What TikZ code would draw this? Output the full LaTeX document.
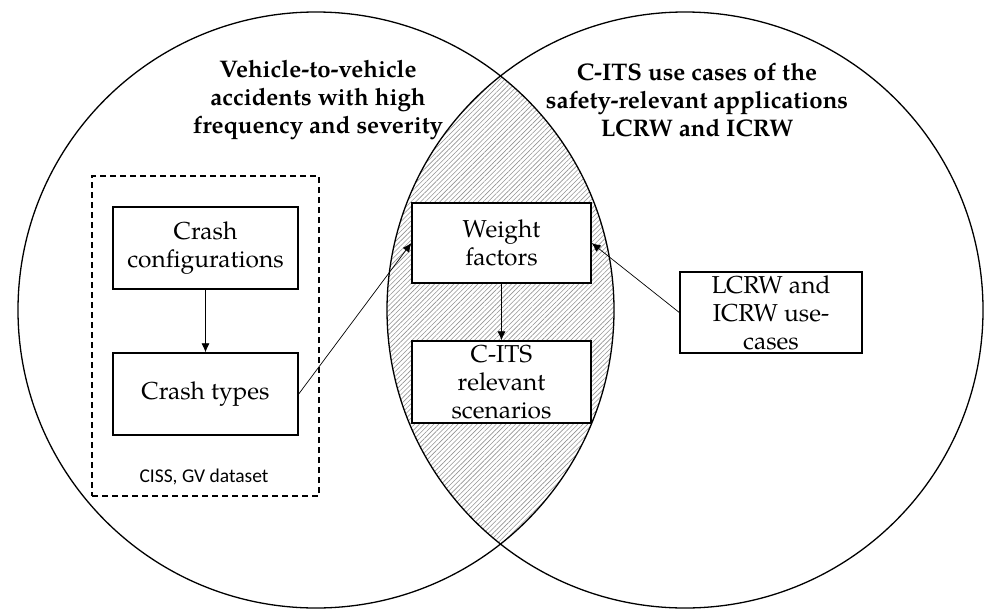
\documentclass[tikz,border=0pt]{standalone}
\usepackage{fontspec}
\setmainfont{TeX Gyre Pagella}
\newfontfamily\labelfont{Carlito}
\usetikzlibrary{patterns.meta,arrows.meta}
\begin{document}
\begin{tikzpicture}[x=1pt,y=-1pt,
  venn/.style={draw=black,line width=1.3pt},
  box/.style={draw=black,line width=1.4pt,fill=white,align=center,inner sep=0pt,
    font=\fontsize{24.5}{28}\selectfont},
  title/.style={align=center,font=\bfseries\fontsize{24}{28}\selectfont},
  arr/.style={draw=black,line width=0.7pt,-{Latex[length=9pt,width=8pt]}},
  dashbox/.style={draw=black,dash pattern=on 6pt off 4pt,line width=1.3pt}
]
\useasboundingbox (0,0) rectangle (984,608);
% hatched intersection
\begin{scope}
  \clip (316,310) circle[radius=298pt];
  \fill[pattern={Lines[angle=45,distance=3.4pt,line width=0.6pt]},pattern color=gray!85]
    (685,310) circle[radius=298pt];
\end{scope}
\draw[venn] (316,310) circle[radius=298pt];
\draw[venn] (685,310) circle[radius=298pt];

\node[title] (tl) at (318,100) {Vehicle-to-vehicle\\accidents with high\\frequency and severity};
\node[title] (tr) at (697,100) {C-ITS use cases of the\\safety-relevant applications\\LCRW and ICRW};

\node[dashbox,minimum width=227pt,minimum height=320pt] (data) at (205.5,336) {};
\node[font=\labelfont\fontsize{19.5}{22}\selectfont] (datalabel) at (204,477) {CISS, GV dataset};

\node[box,minimum width=185pt,minimum height=82pt] (cc) at (205.5,248) {Crash\\configurations};
\node[box,minimum width=185pt,minimum height=82pt] (ct) at (205.5,394) {Crash types};
\node[box,minimum width=179pt,minimum height=80pt] (wf) at (501.5,243) {Weight\\factors};
\node[box,minimum width=179pt,minimum height=82pt] (cr) at (501.5,382) {C-ITS\\relevant\\scenarios};
\node[box,minimum width=182pt,minimum height=81pt] (lc) at (771,312.5) {LCRW and\\ICRW use-\\cases};

\draw[arr] (cc) -- (ct);
\draw[arr] (wf) -- (cr);
\draw[arr] (ct.east) -- (wf.west);
\draw[arr] (lc.west) -- (wf.east);
\end{tikzpicture}
\end{document}
